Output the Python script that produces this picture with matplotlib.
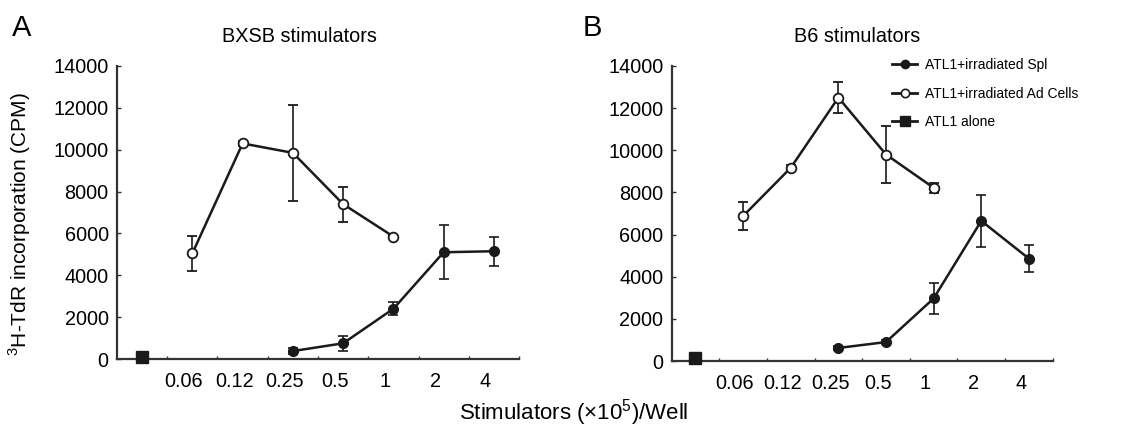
import matplotlib
matplotlib.use('Agg')
import matplotlib.pyplot as plt
from matplotlib.lines import Line2D

plt.rcParams['font.family'] = ['Liberation Sans', 'DejaVu Sans']

# x categories: first slot is "ATL1 alone", then stimulator doses
doses = ['0.06', '0.12', '0.25', '0.5', '1', '2', '4']

# Panel A - BXSB stimulators
a_ad_x = [1, 2, 3, 4, 5]
a_ad = [5050, 10300, 9850, 7400, 5850]
a_ad_err = [850, 100, 2280, 830, 80]
a_spl_x = [3, 4, 5, 6, 7]
a_spl = [380, 750, 2400, 5100, 5150]
a_spl_err = [150, 350, 320, 1290, 690]
a_alone = 80

# Panel B - B6 stimulators
b_ad_x = [1, 2, 3, 4, 5]
b_ad = [6880, 9170, 12500, 9800, 8220]
b_ad_err = [680, 150, 750, 1360, 250]
b_spl_x = [3, 4, 5, 6, 7]
b_spl = [620, 900, 2970, 6650, 4860]
b_spl_err = [100, 100, 750, 1250, 650]
b_alone = 150

axis_col = '#333333'
line_col = '#1a1a1a'


def draw_panel(ax, ad_x, ad, ad_err, spl_x, spl, spl_err, alone, title, title_x):
    ax.errorbar(spl_x, spl, yerr=spl_err, color=line_col, lw=1.8, marker='o', ms=7,
                mfc=line_col, mec=line_col, capsize=3.5, elinewidth=1.2, capthick=1.2,
                zorder=3)
    ax.errorbar(ad_x, ad, yerr=ad_err, color=line_col, lw=1.8, marker='o', ms=7,
                mfc='white', mec=line_col, mew=1.3, capsize=3.5, elinewidth=1.2, capthick=1.2,
                zorder=3)
    ax.plot([0], [alone], color=line_col, marker='s', ms=8, mfc=line_col,
            mec=line_col, zorder=4, clip_on=False)
    ax.set_xlim(-0.5, 7.5)
    ax.set_ylim(0, 14000)
    ax.set_yticks(range(0, 14001, 2000))
    ax.tick_params(axis='y', direction='in', length=3, width=1, color=axis_col,
                   labelsize=14.3, pad=6)
    # boundary ticks between categories, labels slightly left of centre
    ax.set_xticks([i + 0.5 for i in range(8)], minor=True)
    ax.set_xticks([i - 0.17 for i in range(1, 8)])
    ax.set_xticklabels(doses)
    ax.tick_params(axis='x', which='major', length=0, labelsize=14.3, pad=9)
    ax.tick_params(axis='x', which='minor', direction='in', length=2.5, width=1,
                   color=axis_col)
    for s in ['top', 'right']:
        ax.spines[s].set_visible(False)
    for s in ['left', 'bottom']:
        ax.spines[s].set_color(axis_col)
        ax.spines[s].set_linewidth(1.6)
    ax.set_title(title, fontsize=14.3, pad=17, x=title_x)


fig = plt.figure(figsize=(11.47, 4.28), dpi=100)
ax1 = fig.add_axes([0.102, 0.1612, 0.3505, 0.6846])
ax2 = fig.add_axes([0.5856, 0.1565, 0.3322, 0.6893])

draw_panel(ax1, a_ad_x, a_ad, a_ad_err, a_spl_x, a_spl, a_spl_err, a_alone,
           'BXSB stimulators', 0.455)
draw_panel(ax2, b_ad_x, b_ad, b_ad_err, b_spl_x, b_spl, b_spl_err, b_alone,
           'B6 stimulators', 0.486)

ax1.set_ylabel('$^{\\mathregular{3}}$H-TdR incorporation (CPM)', fontsize=15)
ax1.yaxis.set_label_coords(-0.21, 0.46)

handles = [
    Line2D([], [], color=line_col, lw=2, marker='o', ms=6, mfc=line_col, mec=line_col),
    Line2D([], [], color=line_col, lw=2, marker='o', ms=6, mfc='white', mec=line_col, mew=1.2),
    Line2D([], [], color=line_col, lw=2, marker='s', ms=7, mfc=line_col, mec=line_col),
]
labels = ['ATL1+irradiated Spl', 'ATL1+irradiated Ad Cells', 'ATL1 alone']
ax2.legend(handles, labels, loc='upper left', bbox_to_anchor=(0.56, 1.05), frameon=False,
           fontsize=10, handlelength=1.8, handletextpad=0.6, labelspacing=1.05, borderpad=0)

fig.text(0.010, 0.935, 'A', fontsize=21, va='center', ha='left')
fig.text(0.508, 0.935, 'B', fontsize=21, va='center', ha='left')
fig.text(0.5, 0.036, 'Stimulators (\u00d710$^{\\mathregular{5}}$)/Well', fontsize=16,
         ha='center', va='center')

fig.savefig('out.png', dpi=100)
